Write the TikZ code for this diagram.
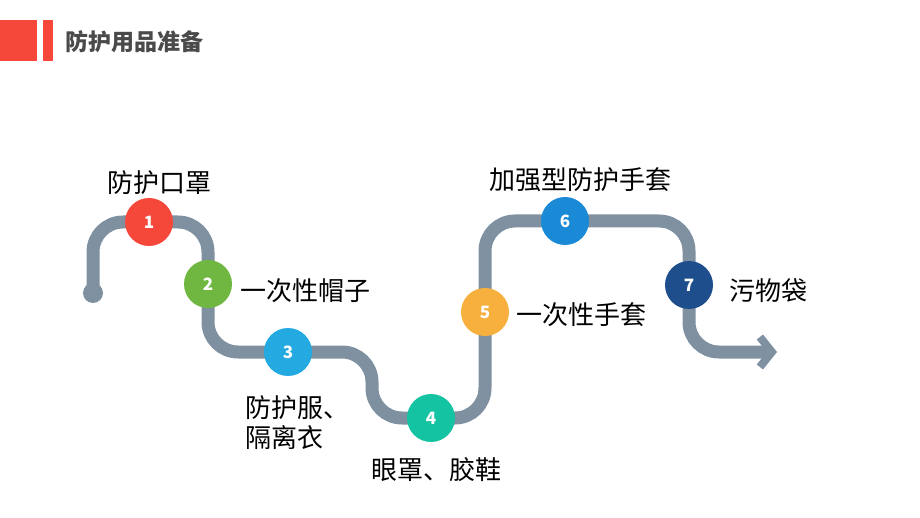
\documentclass[tikz,border=0pt]{standalone}
\usepackage{fontspec}
\newfontfamily\cjk{Noto Sans CJK SC}
\usetikzlibrary{arrows.meta,positioning}
\definecolor{titlered}{HTML}{F5483B}
\definecolor{titlegray}{HTML}{4A4A4A}
\definecolor{pathgray}{HTML}{7F90A1}
\definecolor{dotred}{HTML}{F5483B}
\definecolor{dotgreen}{HTML}{70B741}
\definecolor{dotcyan}{HTML}{24A9E1}
\definecolor{dotteal}{HTML}{14C3A2}
\definecolor{dotorange}{HTML}{F7B03D}
\definecolor{dotblue}{HTML}{1A89D6}
\definecolor{dotnavy}{HTML}{1F4E8C}
\tikzset{
  numdot/.style={circle, fill=#1, minimum size=48pt, inner sep=0pt, text=white,
    font=\cjk\bfseries\fontsize{17}{17}\selectfont},
  lbl/.style={font=\cjk\fontsize{26}{30}\selectfont, inner sep=0pt, text=black},
  track/.style={pathgray, line width=13pt, rounded corners=30pt}
}
\begin{document}
\begin{tikzpicture}[x=1pt,y=-1pt]
\useasboundingbox (0,0) rectangle (920,518);
%titolo
\fill[titlered] (0,20) rectangle (37,61);
\fill[titlered] (43,20) rectangle (53,61);
\node[anchor=west, inner sep=0pt, text=titlegray, font=\cjk\bfseries\fontsize{23}{23}\selectfont] (title) at (65,42) {防护用品准备};
%tappe
\coordinate (start) at (93,293);
\coordinate (p1) at (149,222);
\coordinate (p2) at (208,284);
\coordinate (p3) at (288,352);
\coordinate (bend) at (372,385);
\coordinate (p4) at (431,418);
\coordinate (p5) at (485,312);
\coordinate (p6) at (565,221);
\coordinate (p7) at (689,285);
\coordinate (end) at (777,352);
\draw[track, -{Straight Barb[length=12pt,width=30pt,line width=8pt]}] (start) -- (start |- p1) -- (p2 |- p1) -- (p2 |- p3)
  -- (bend |- p3) -- (bend |- p4) -- (p5 |- p4) -- (p5 |- p6) -- (p7 |- p6) -- (p7 |- end) -- (end);
\fill[pathgray] (start) circle (10pt);
\node[numdot=dotred] (c1) at (p1) {1};
\node[numdot=dotgreen] (c2) at (p2) {2};
\node[numdot=dotcyan] (c3) at (p3) {3};
\node[numdot=dotteal] (c4) at (p4) {4};
\node[numdot=dotorange] (c5) at (p5) {5};
\node[numdot=dotblue] (c6) at (p6) {6};
\node[numdot=dotnavy] (c7) at (p7) {7};
%etichette
\node[lbl] (l1) at (159,183) {防护口罩};
\node[lbl, anchor=west] (l2) at (240,291) {一次性帽子};
\node[lbl, anchor=west, align=left] (l3) at (245,423) {防护服、\\隔离衣};
\node[lbl] (l4) at (436,470) {眼罩、胶鞋};
\node[lbl, anchor=west] (l5) at (516,315) {一次性手套};
\node[lbl] (l6) at (580,180) {加强型防护手套};
\node[lbl, anchor=west] (l7) at (729,291) {污物袋};
\end{tikzpicture}
\end{document}
